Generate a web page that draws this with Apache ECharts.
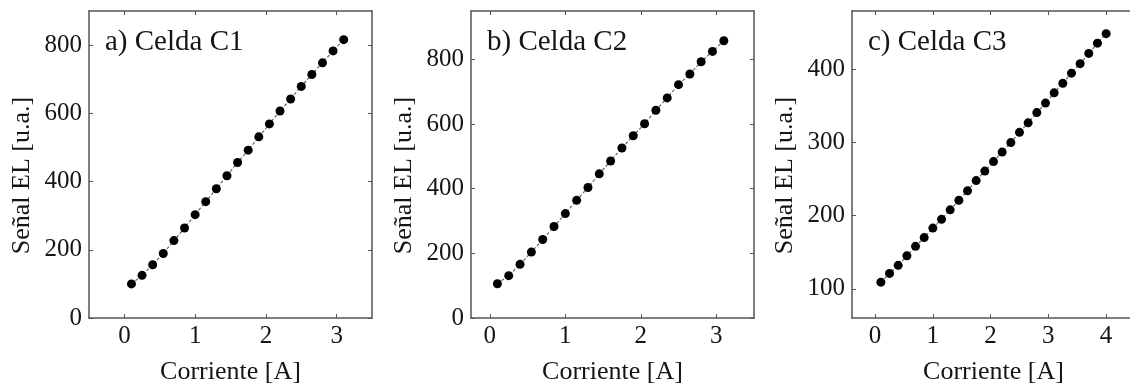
<!DOCTYPE html>
<html>
<head>
<meta charset="utf-8">
<script src="https://cdn.jsdelivr.net/npm/echarts@6/dist/echarts.min.js"></script>
<style>
  html, body { margin: 0; padding: 0; background: #fff; }
  #chart { width: 1130px; height: 388px; }
</style>
</head>
<body>
<div id="chart"></div>
<script>
// Corriente [A] para C1 y C2 (21 puntos) y C3 (27 puntos)
const currentAB = [0.1, 0.25, 0.4, 0.55, 0.7, 0.85, 1.0, 1.15, 1.3, 1.45, 1.6,
  1.75, 1.9, 2.05, 2.2, 2.35, 2.5, 2.65, 2.8, 2.95, 3.1];
const currentC = [0.1, 0.25, 0.4, 0.55, 0.7, 0.85, 1.0, 1.15, 1.3, 1.45, 1.6,
  1.75, 1.9, 2.05, 2.2, 2.35, 2.5, 2.65, 2.8, 2.95, 3.1, 3.25, 3.4, 3.55, 3.7, 3.85, 4.0];

// Señal EL [u.a.]
const signalC1 = [100, 125, 156, 189, 227, 264, 303, 341, 379, 417, 456,
  492, 531, 569, 607, 642, 679, 714, 748, 783, 816];
const signalC2 = [106, 131, 166, 204, 243, 283, 323, 364, 404, 446, 486,
  526, 564, 601, 643, 681, 722, 755, 793, 825, 858];
const signalC3 = [109, 121, 132, 145, 158, 170, 183, 195, 208, 221, 234,
  248, 261, 274, 287, 300, 314, 327, 341, 354, 368, 381, 395, 408, 422, 436, 449];

const panelTitles = ['a) Celda C1', 'b) Celda C2', 'c) Celda C3'];
const xTicksAB = [0, 1, 2, 3];
const xTicksC = [0, 1, 2, 3, 4];
const yTicksAB = [0, 200, 400, 600, 800];
const yTicksC = [100, 200, 300, 400];

const FONT = '"Liberation Serif", "DejaVu Serif", serif';
const AXIS_COLOR = '#555';
const TEXT_COLOR = '#151515';

let chartDom = document.getElementById('chart');
let myChart = echarts.init(chartDom);

// el panel c queda cortado por el borde derecho de la imagen
const panels = [
  { x: currentAB, y: signalC1, xMin: -0.5, xMax: 3.5, yMin: 0, yMax: 900, xTicks: xTicksAB, yTicks: yTicksAB, left: 89 },
  { x: currentAB, y: signalC2, xMin: -0.25, xMax: 3.5, yMin: 0, yMax: 950, xTicks: xTicksAB, yTicks: yTicksAB, left: 471 },
  { x: currentC, y: signalC3, xMin: -0.4, xMax: 4.5, yMin: 60, yMax: 480, xTicks: xTicksC, yTicks: yTicksC, left: 852 }
];

function axisLine() {
  return { show: true, onZero: false, lineStyle: { color: AXIS_COLOR, width: 1.5 } };
}

function ticks(values) {
  return { show: true, inside: true, length: 4, customValues: values, lineStyle: { color: AXIS_COLOR } };
}

let grids = [], xAxes = [], yAxes = [], series = [], titles = [];

panels.forEach((p, i) => {
  grids.push({ left: p.left, top: 11, width: 283, height: 307, outerBoundsMode: 'none', containLabel: false });

  // eje inferior
  xAxes.push({
    gridIndex: i, type: 'value', position: 'bottom', min: p.xMin, max: p.xMax,
    name: 'Corriente [A]', nameLocation: 'middle', nameGap: 41,
    nameTextStyle: { fontFamily: FONT, fontSize: 26, color: TEXT_COLOR },
    axisLine: axisLine(),
    axisTick: ticks(p.xTicks),
    axisLabel: { show: true, customValues: p.xTicks, margin: 6, fontFamily: FONT, fontSize: 25, color: TEXT_COLOR },
    splitLine: { show: false }
  });
  // eje superior (solo marcas)
  xAxes.push({
    gridIndex: i, type: 'value', position: 'top', min: p.xMin, max: p.xMax,
    axisLine: axisLine(),
    axisTick: ticks(p.xTicks),
    axisLabel: { show: false },
    splitLine: { show: false }
  });

  yAxes.push({
    gridIndex: i, type: 'value', position: 'left', min: p.yMin, max: p.yMax,
    name: 'Señal EL [u.a.]', nameLocation: 'middle', nameGap: 54, nameRotate: 90,
    nameTextStyle: { fontFamily: FONT, fontSize: 26, color: TEXT_COLOR, padding: [0, 22, 0, 0] },
    axisLine: axisLine(),
    axisTick: ticks(p.yTicks),
    axisLabel: { show: true, customValues: p.yTicks, margin: 7, fontFamily: FONT, fontSize: 25, color: TEXT_COLOR },
    splitLine: { show: false }
  });
  yAxes.push({
    gridIndex: i, type: 'value', position: 'right', min: p.yMin, max: p.yMax,
    axisLine: axisLine(),
    axisTick: ticks(p.yTicks),
    axisLabel: { show: false },
    splitLine: { show: false }
  });

  series.push({
    type: 'line',
    xAxisIndex: i * 2,
    yAxisIndex: i * 2,
    data: p.x.map((v, k) => [v, p.y[k]]),
    symbol: 'circle',
    symbolSize: 9,
    itemStyle: { color: '#000' },
    lineStyle: { color: '#666', width: 1.2, type: [3, 2] },
    animation: false
  });

  titles.push({
    text: panelTitles[i],
    left: p.left + 16,
    top: 28,
    padding: 0,
    textStyle: { fontFamily: FONT, fontSize: 29, fontWeight: 'normal', color: TEXT_COLOR }
  });
});

myChart.setOption({
  animation: false,
  title: titles,
  grid: grids,
  xAxis: xAxes,
  yAxis: yAxes,
  series: series
});

window.addEventListener('resize', function() {
  myChart.resize();
});
</script>
</body>
</html>
